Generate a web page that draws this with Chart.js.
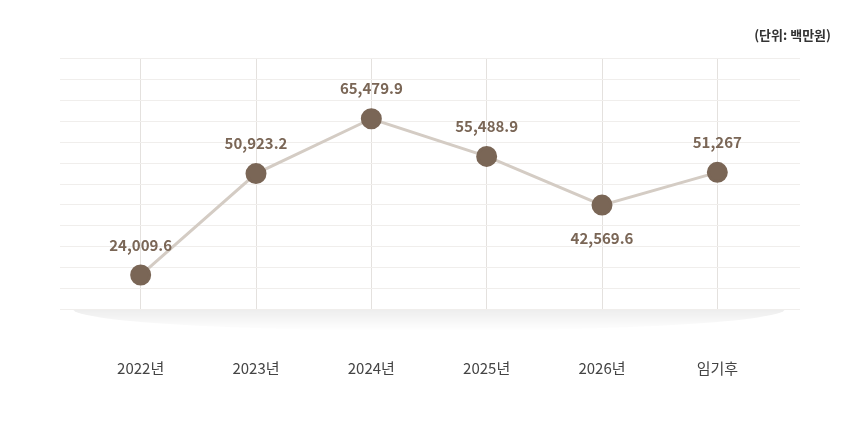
<!DOCTYPE html>
<html>
<head>
<meta charset="utf-8">
<script src="https://cdn.jsdelivr.net/npm/chart.js@4"></script>
<style>
body { margin: 0; background: #fff; }
#wrap { position: relative; width: 855px; height: 421px; }
#unit { position: absolute; right: 24px; top: 25px; font: bold 13px "Noto Sans CJK KR", sans-serif; color: #333; }
</style>
</head>
<body>
<div id="wrap">
<div id="unit">(단위: 백만원)</div>
<canvas id="c" width="855" height="421"></canvas>
</div>
<script>
var years = ['2022년', '2023년', '2024년', '2025년', '2026년', '임기후'];
var amounts = [24009.6, 50923.2, 65479.9, 55488.9, 42569.6, 51267];
var amountLabels = ['24,009.6', '50,923.2', '65,479.9', '55,488.9', '42,569.6', '51,267'];

var decor = {
    id: 'decor',
    beforeDatasetsDraw: function (chart) {
        var ctx = chart.ctx, a = chart.chartArea, y = chart.scales.y;
        ctx.save();
        // soft shadow under the plot
        var g = ctx.createLinearGradient(0, a.bottom, 0, a.bottom + 22);
        g.addColorStop(0, 'rgba(0,0,0,0.07)');
        g.addColorStop(1, 'rgba(0,0,0,0)');
        ctx.fillStyle = g;
        ctx.beginPath();
        ctx.ellipse((a.left + a.right) / 2, a.bottom, (a.right - a.left) / 2 + 10, 22, 0, 0, Math.PI);
        ctx.fill();
        // faint horizontal lines
        ctx.strokeStyle = '#f0eeec';
        ctx.lineWidth = 1;
        y.ticks.forEach(function (t) {
            var py = Math.round(y.getPixelForValue(t.value)) + 0.5;
            ctx.beginPath();
            ctx.moveTo(60, py);
            ctx.lineTo(800, py);
            ctx.stroke();
        });
        ctx.restore();
    },
    afterDatasetsDraw: function (chart) {
        var ctx = chart.ctx;
        var meta = chart.getDatasetMeta(0);
        ctx.save();
        ctx.font = 'bold 15px "Noto Sans CJK KR", sans-serif';
        ctx.fillStyle = '#7a6656';
        ctx.textAlign = 'center';
        ctx.textBaseline = 'middle';
        meta.data.forEach(function (p, i) {
            var dy = i === 4 ? 33 : -30;
            ctx.fillText(amountLabels[i], p.x, p.y + dy);
        });
        ctx.restore();
    }
};

new Chart(document.getElementById('c'), {
    type: 'line',
    data: {
        labels: years,
        datasets: [{
            data: amounts,
            borderColor: '#d4ccc4',
            borderWidth: 3,
            pointRadius: 9,
            pointHoverRadius: 9,
            pointBackgroundColor: '#7a6656',
            pointBorderColor: '#7a6656',
            tension: 0
        }]
    },
    options: {
        responsive: false,
        animation: false,
        layout: { padding: { top: 58, left: 75, right: 80, bottom: -6 } },
        plugins: { legend: { display: false }, tooltip: { enabled: false } },
        scales: {
            x: {
                offset: true,
                grid: { offset: false, color: '#e4e1de', drawTicks: false },
                border: { display: false },
                ticks: { padding: 50, color: '#444', font: { size: 15, family: '"Noto Sans CJK KR", sans-serif' } }
            },
            y: {
                min: 15000,
                max: 81600,
                ticks: { stepSize: 5550, display: false },
                grid: { display: false },
                border: { display: false }
            }
        }
    },
    plugins: [decor]
});
</script>
</body>
</html>
